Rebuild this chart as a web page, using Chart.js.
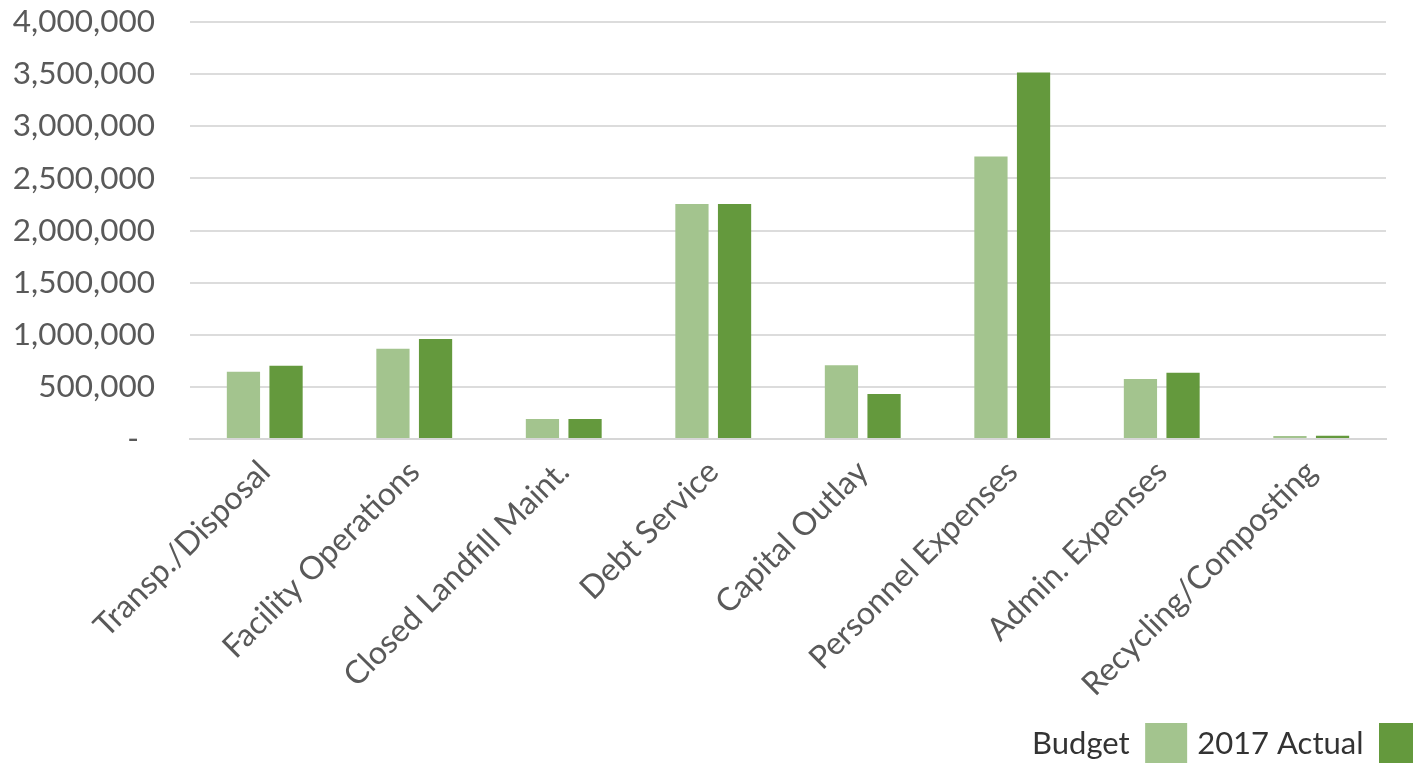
<!DOCTYPE html>
<html>
<head>
<meta charset="utf-8">
<title>Budget vs 2017 Actual</title>
<script src="https://cdn.jsdelivr.net/npm/chart.js@4"></script>
<style>
  html, body { margin: 0; padding: 0; background: #ffffff; overflow: hidden; }
  #wrap { position: relative; width: 1431px; height: 775px; }
</style>
</head>
<body>
<div id="wrap"><canvas id="chart"></canvas></div>
<script>
// Expense categories
const categories = [
  'Transp./Disposal',
  'Facility Operations',
  'Closed Landfill Maint.',
  'Debt Service',
  'Capital Outlay',
  'Personnel Expenses',
  'Admin. Expenses',
  'Recycling/Composting'
];

// Budgeted amounts per category
const budgetValues = [646000, 866000, 192000, 2255000, 707000, 2709000, 576000, 29000];

// 2017 actual spending per category
const actualValues = [703000, 960000, 192000, 2255000, 432000, 3515000, 636000, 30000];

// Value axis range and step
const yMin = 0;
const yMax = 4000000;
const yStep = 500000;

const seriesNames = ['Budget', '2017 Actual'];
const seriesColors = ['#a3c48e', '#64993d'];

const FONT = 'Lato, "Open Sans", sans-serif';

const fmt = v => v === 0 ? '-  ' : v.toLocaleString('en-US');

new Chart(document.getElementById('chart'), {
  type: 'bar',
  data: {
    labels: categories,
    datasets: [
      {
        label: seriesNames[0],
        data: budgetValues,
        backgroundColor: seriesColors[0],
        borderWidth: 0,
        categoryPercentage: 0.57,
        barPercentage: 0.78
      },
      {
        label: seriesNames[1],
        data: actualValues,
        backgroundColor: seriesColors[1],
        borderWidth: 0,
        categoryPercentage: 0.57,
        barPercentage: 0.78
      }
    ]
  },
  options: {
    responsive: true,
    maintainAspectRatio: false,
    animation: false,
    devicePixelRatio: 1,
    layout: { padding: { top: 22, left: 0, right: 0, bottom: 0 } },
    plugins: {
      tooltip: { enabled: false },
      legend: {
        position: 'bottom',
        align: 'start',
        rtl: true,
        reverse: true,
        labels: {
          boxWidth: 42,
          boxHeight: 42,
          padding: 10,
          color: '#333333',
          font: { family: FONT, size: 31 }
        }
      }
    },
    scales: {
      x: {
        grid: { display: false },
        border: { display: true, color: '#d6d6d6', width: 2 },
        ticks: {
          color: '#595959',
          font: { family: FONT, size: 32 },
          maxRotation: 45,
          minRotation: 45,
          padding: 6,
          autoSkip: false
        },
        afterFit(scale) { scale.height = 274; }
      },
      y: {
        min: yMin,
        max: yMax,
        grid: { color: '#dcdcdc', lineWidth: 2, drawTicks: false },
        border: { display: false },
        ticks: {
          stepSize: yStep,
          color: '#595959',
          font: { family: FONT, size: 31.5 },
          padding: 35,
          callback: v => fmt(v)
        },
        afterFit(scale) {
          scale.width = 190;
          // the label gap should not push the plot down from the top
          scale.paddingTop = 0;
          scale.paddingBottom = 0;
        }
      },
      // empty margin on the right so the legend reaches past the plot edge
      yRight: {
        type: 'linear',
        position: 'right',
        display: true,
        grid: { display: false, drawTicks: false },
        border: { display: false },
        ticks: { display: false },
        afterFit(scale) { scale.width = 45; }
      }
    }
  }
});
</script>
</body>
</html>
